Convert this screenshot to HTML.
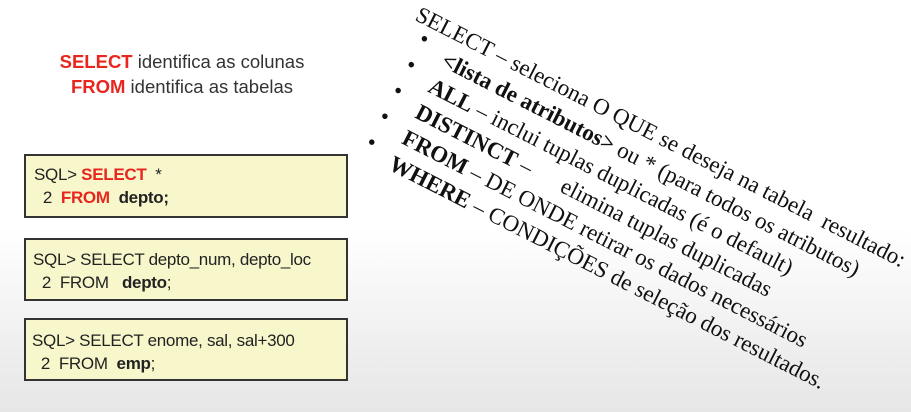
<!DOCTYPE html>
<html><head><meta charset="utf-8"><style>
body{margin:0;width:911px;height:412px;overflow:hidden;background:linear-gradient(#fff 0,#fff 55%,#e6e6e6 100%);font-family:"Liberation Sans",sans-serif;position:relative}
.h{position:absolute;left:0;width:364px;text-align:center;font-size:18.5px;color:#333;white-space:nowrap}
.r{color:#e8261e;font-weight:bold}
.box{position:absolute;left:24px;width:324px;background:#f8f7cc;border:2px solid #333;font-size:17px;color:#222;line-height:23px;box-sizing:border-box;letter-spacing:-0.3px}
.box div{white-space:pre}
#rot{position:absolute;left:424px;top:0px;transform-origin:0 0;transform:rotate(27deg);font-family:"Liberation Serif",serif;font-size:23px;line-height:29px;color:#111;white-space:pre}
#rot span.b{display:inline-block;width:36px;padding-left:14px;position:relative;top:-9px;box-sizing:border-box}
</style></head><body>
<div class="h" style="top:51px"><span class="r">SELECT</span> identifica as colunas</div>
<div class="h" style="top:76px"><span class="r">FROM</span> identifica as tabelas</div>
<div class="box" style="top:154px;height:64px;padding:7px 0 0 8px"><div>SQL&gt; <span class="r">SELECT</span>  *</div><div>  2  <span class="r">FROM</span>  <b>depto;</b></div></div>
<div class="box" style="top:238px;height:63px;padding:8px 0 0 7px"><div>SQL&gt; SELECT depto_num, depto_loc</div><div>  2  FROM   <b>depto</b>;</div></div>
<div class="box" style="top:318px;height:63px;padding:9px 0 0 6px"><div>SQL&gt; SELECT enome, sal, sal+300</div><div>  2  FROM  <b>emp</b>;</div></div>
<div id="rot"><div>SELECT – seleciona O QUE se deseja na tabela  resultado:</div><div><span class="b">•</span><span style="padding-left:8px"><b>&lt;lista de atributos&gt;</b> ou * (para todos os atributos)</span></div><div><span class="b">•</span><span style="padding-left:8px"><b>ALL</b> – inclui tuplas duplicadas (é o default)</span></div><div><span class="b">•</span><span style="padding-left:8px"><b>DISTINCT</b> –      elimina tuplas duplicadas</span></div><div><span class="b">•</span><span style="padding-left:8px"><b>FROM</b> – DE ONDE retirar os dados necessários</span></div><div><span class="b">•</span><span style="padding-left:8px"><b>WHERE</b> – CONDIÇÕES de seleção dos resultados.</span></div></div>
</body></html>
